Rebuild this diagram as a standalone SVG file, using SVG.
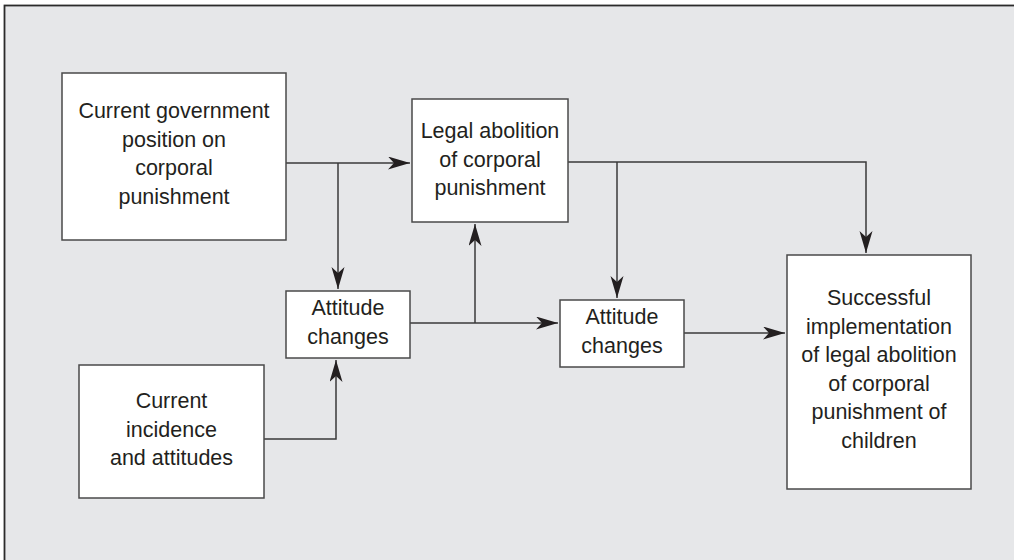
<svg xmlns="http://www.w3.org/2000/svg" width="1014" height="560" viewBox="0 0 1014 560">
<style>
.box{fill:#ffffff;stroke:#4a4a4a;stroke-width:1.5}
.t{font-family:"Liberation Sans",Arial,sans-serif;font-size:21.5px;fill:#231f20;text-anchor:middle}
.c{fill:none;stroke:#3a3a3a;stroke-width:1.5}
</style>
<defs>
<marker id="ah" markerUnits="userSpaceOnUse" markerWidth="24" markerHeight="14" refX="22" refY="6.5" orient="auto">
<path d="M0,0 L22,6.5 L0,13 L6,6.5 Z" fill="#231f20"/>
</marker>
</defs>
<rect x="0" y="0" width="1014" height="560" fill="#ffffff"/>
<rect x="4.5" y="5.5" width="1020" height="570" fill="#e6e7e9" stroke="#2b2b2b" stroke-width="1.8"/>
<g id="connectors">
<path class="c" d="M286,163 H410" marker-end="url(#ah)"/>
<path class="c" d="M338,163 V289" marker-end="url(#ah)"/>
<path class="c" d="M264,439 H336 V360" marker-end="url(#ah)"/>
<path class="c" d="M410,323 H558" marker-end="url(#ah)"/>
<path class="c" d="M475,323 V224" marker-end="url(#ah)"/>
<path class="c" d="M568,162 H866 V253" marker-end="url(#ah)"/>
<path class="c" d="M617,162 V298" marker-end="url(#ah)"/>
<path class="c" d="M684,333 H785" marker-end="url(#ah)"/>
</g>
<g id="node-government">
<rect class="box" x="62" y="73" width="224" height="167"/>
<text class="t" x="174" y="118">Current government</text>
<text class="t" x="174" y="147">position on</text>
<text class="t" x="174" y="175">corporal</text>
<text class="t" x="174" y="204">punishment</text>
</g>
<g id="node-legal">
<rect class="box" x="412" y="99" width="156" height="123"/>
<text class="t" x="490" y="138">Legal abolition</text>
<text class="t" x="490" y="167">of corporal</text>
<text class="t" x="490" y="195">punishment</text>
</g>
<g id="node-attitude1">
<rect class="box" x="286" y="291" width="124" height="67"/>
<text class="t" x="348" y="315">Attitude</text>
<text class="t" x="348" y="344">changes</text>
</g>
<g id="node-incidence">
<rect class="box" x="79" y="365" width="185" height="133"/>
<text class="t" x="171.5" y="408">Current</text>
<text class="t" x="171.5" y="437">incidence</text>
<text class="t" x="171.5" y="465">and attitudes</text>
</g>
<g id="node-attitude2">
<rect class="box" x="560" y="300" width="124" height="67"/>
<text class="t" x="622" y="324">Attitude</text>
<text class="t" x="622" y="353">changes</text>
</g>
<g id="node-successful">
<rect class="box" x="787" y="255" width="184" height="234"/>
<text class="t" x="879" y="305">Successful</text>
<text class="t" x="879" y="334">implementation</text>
<text class="t" x="879" y="362">of legal abolition</text>
<text class="t" x="879" y="391">of corporal</text>
<text class="t" x="879" y="419">punishment of</text>
<text class="t" x="879" y="448">children</text>
</g>
</svg>
